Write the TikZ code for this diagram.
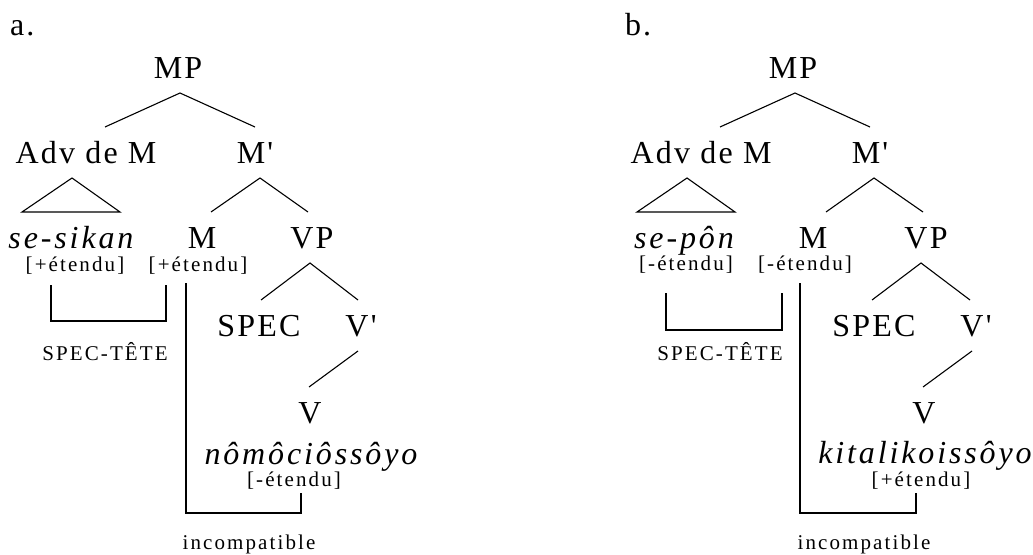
\documentclass[tikz,border=0pt]{standalone}
\usepackage{fontspec}
\setmainfont{Liberation Serif}
\newfontfamily\treefont[LetterSpace=7,Ligatures=TeXOff]{Liberation Serif}
\newfontfamily\wordfont[LetterSpace=9,Ligatures=TeXOff]{Liberation Serif}
\newfontfamily\featfont[LetterSpace=10,Ligatures=TeXOff]{Liberation Serif}
\tikzset{
  tree/cat/.style={font=\treefont\fontsize{32}{36}\selectfont, inner sep=0pt,
    outer xsep=0pt, outer ysep=15pt, text height=21pt, text depth=0pt, anchor=base},
  tree/word/.style={tree/cat, font=\wordfont\fontsize{32}{36}\selectfont\itshape},
  tree/feat/.style={font=\featfont\fontsize{21}{24}\selectfont, inner sep=0pt,
    text height=15pt, text depth=4pt, anchor=base},
  tree/edge/.style={black, line width=1.1pt},
  tree/link/.style={black, line width=2pt},
}

\begin{document}
\begin{tikzpicture}[x=1pt, y=-1pt]
  \useasboundingbox (0,0) rectangle (1033,554);

  % a.
  \node[tree/cat, anchor=base west] (labA) at (10,35) {a.};
  \node[tree/cat] (mpA) at (178,78) {MP};
  \node[tree/cat] (advA) at (86,163) {Adv de M};
  \node[tree/cat] (mbarA) at (255,163) {M'};
  \node[tree/word] (wordA) at (71,248) {se-sikan};
  \node[tree/cat] (mA) at (202,248) {M};
  \node[tree/cat] (vpA) at (312,248) {VP};
  \node[tree/feat] (featA1) at (75,271) {[+étendu]};
  \node[tree/feat] (featA2) at (198,271) {[+étendu]};
  \node[tree/cat] (specA) at (259,336) {SPEC};
  \node[tree/cat] (vbarA) at (361,336) {V'};
  \node[tree/cat] (vA) at (310,423) {V};
  \node[tree/word] (verbA) at (311,464) {nômôciôssôyo};
  \node[tree/feat] (featA3) at (294,486) {[-étendu]};
  \node[tree/feat] (spechA) at (105,360) {SPEC-TÊTE};
  \node[tree/feat] (incA) at (249,549) {incompatible};

  \draw[tree/edge] ([xshift=19]advA.north) -- ([xshift=2]mpA.south) -- (mbarA.north);
  \draw[tree/edge] ([xshift=-14]advA.south) -- ([xshift=-49]wordA.north) -- ([xshift=49]wordA.north) -- cycle;
  \draw[tree/edge] ([xshift=9]mA.north) -- ([xshift=5]mbarA.south) -- ([xshift=-4]vpA.north);
  \draw[tree/edge] ([xshift=2]specA.north) -- ([xshift=-2]vpA.south) -- ([xshift=-3]vbarA.north);
  \draw[tree/edge] ([xshift=-3]vbarA.south) -- ([xshift=-1]vA.north);
  \draw[tree/link] ([xshift=-24,yshift=-10]featA1.south) -- ++(0,36) -| ([xshift=-32,yshift=-10]featA2.south);
  \draw[tree/link] ([xshift=-12,yshift=-8]featA2.south) -- ++(0,230) -| ([xshift=7,yshift=-3]featA3.south);

  % b.
  \begin{scope}[shift={(615,0)}]
  \node[tree/cat, anchor=base west] (labB) at (10,35) {b.};
  \node[tree/cat] (mpB) at (178,78) {MP};
  \node[tree/cat] (advB) at (86,163) {Adv de M};
  \node[tree/cat] (mbarB) at (255,163) {M'};
  \node[tree/word] (wordB) at (69,248) {se-pôn};
  \node[tree/cat] (mB) at (198,248) {M};
  \node[tree/cat] (vpB) at (311,248) {VP};
  \node[tree/feat] (featB1) at (71,270) {[-étendu]};
  \node[tree/feat] (featB2) at (190,270) {[-étendu]};
  \node[tree/cat] (specB) at (259,336) {SPEC};
  \node[tree/cat] (vbarB) at (361,336) {V'};
  \node[tree/cat] (vB) at (309,423) {V};
  \node[tree/word] (verbB) at (310,463) {kitalikoissôyo};
  \node[tree/feat] (featB3) at (306,486) {[+étendu]};
  \node[tree/feat] (spechB) at (105,360) {SPEC-TÊTE};
  \node[tree/feat] (incB) at (249,549) {incompatible};

  \draw[tree/edge] ([xshift=19]advB.north) -- ([xshift=2]mpB.south) -- (mbarB.north);
  \draw[tree/edge] ([xshift=-14]advB.south) -- ([xshift=-47]wordB.north) -- ([xshift=51]wordB.north) -- cycle;
  \draw[tree/edge] ([xshift=13]mB.north) -- ([xshift=4]mbarB.south) -- ([xshift=-3]vpB.north);
  \draw[tree/edge] ([xshift=-2]specB.north) -- ([xshift=-5]vpB.south) -- ([xshift=-6]vbarB.north);
  \draw[tree/edge] ([xshift=-4]vbarB.south) -- ([xshift=-1]vB.north);
  \draw[tree/link] ([xshift=-20,yshift=-19]featB1.south) -- ++(0,37) -| ([xshift=-23,yshift=-19]featB2.south);
  \draw[tree/link] ([xshift=-5,yshift=-9]featB2.south) -- ++(0,230) -| ([xshift=-5,yshift=-3]featB3.south);
  \end{scope}
\end{tikzpicture}
\end{document}
